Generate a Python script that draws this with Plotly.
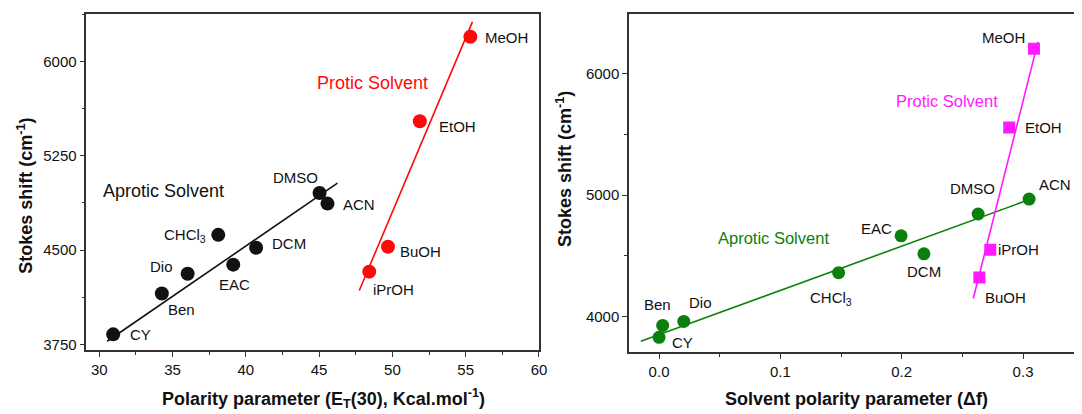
import plotly.graph_objects as go

W, H = 1082, 414

# ---------------- Left panel data (E_T(30)) ----------------
aprotic_names_L = ["CY", "Ben", "Dio", "CHCl<sub>3</sub>", "EAC", "DCM", "DMSO", "ACN"]
aprotic_et = [30.95, 34.27, 36.03, 38.12, 39.14, 40.7, 45.03, 45.57]
aprotic_ss_L = [3829, 4154, 4312, 4621, 4384, 4518, 4954, 4870]
aprotic_fit_x_L = [30.54, 46.25]
aprotic_fit_y_L = [3774, 5033]

protic_names_L = ["MeOH", "EtOH", "BuOH", "iPrOH"]
protic_et = [55.32, 51.87, 49.7, 48.42]
protic_ss_L = [6198, 5525, 4526, 4328]
protic_fit_x_L = [47.74, 55.46]
protic_fit_y_L = [4178, 6317]

# ---------------- Right panel data (Δf) ----------------
aprotic_names_R = ["CY", "Ben", "Dio", "CHCl<sub>3</sub>", "EAC", "DCM", "DMSO", "ACN"]
aprotic_df = [0.0, 0.003, 0.0204, 0.148, 0.1995, 0.2183, 0.263, 0.305]
aprotic_ss_R = [3828, 3926, 3959, 4361, 4664, 4516, 4844, 4967]
aprotic_fit_x_R = [-0.015, 0.305]
aprotic_fit_y_R = [3795, 4962]

protic_names_R = ["MeOH", "EtOH", "iPrOH", "BuOH"]
protic_df = [0.309, 0.2886, 0.273, 0.264]
protic_ss_R = [6205, 5557, 4549, 4320]
protic_fit_x_R = [0.259, 0.3123]
protic_fit_y_R = [4148, 6262]

# label offsets in pixels (dx right, dy down)
off_aprotic_L = [(27, 0), (20, 16), (-26, -7), (-33, 1), (1, 20), (33, -4), (-24, -16), (32, 1)]
off_protic_L = [(36, 1), (38, 5), (32, 5), (24, 18)]
off_aprotic_R = [(23, 5), (-5, -21), (17, -19), (-8, 26), (-25, -7), (0, 18), (-6, -26), (26, -15)]
off_protic_R = [(-30, -11), (34, 0), (28, 0), (26, 20)]

BLACK = "#111111"
RED = "#ff0a0a"
GREEN = "#0c800c"
MAGENTA = "#ff1aff"
AXC = "#333333"
FONT = "Liberation Sans, Arial, sans-serif"

fig = go.Figure()

# left panel
fig.add_trace(go.Scatter(x=aprotic_fit_x_L, y=aprotic_fit_y_L, mode="lines",
                         line=dict(color=BLACK, width=1.6), xaxis="x", yaxis="y", showlegend=False))
fig.add_trace(go.Scatter(x=protic_fit_x_L, y=protic_fit_y_L, mode="lines",
                         line=dict(color=RED, width=1.6), xaxis="x", yaxis="y", showlegend=False))
fig.add_trace(go.Scatter(x=aprotic_et, y=aprotic_ss_L, mode="markers",
                         marker=dict(color=BLACK, size=14, symbol="circle"),
                         xaxis="x", yaxis="y", showlegend=False))
fig.add_trace(go.Scatter(x=protic_et, y=protic_ss_L, mode="markers",
                         marker=dict(color=RED, size=14, symbol="circle"),
                         xaxis="x", yaxis="y", showlegend=False))

# right panel
fig.add_trace(go.Scatter(x=aprotic_fit_x_R, y=aprotic_fit_y_R, mode="lines",
                         line=dict(color=GREEN, width=1.6), xaxis="x2", yaxis="y2", showlegend=False))
fig.add_trace(go.Scatter(x=protic_fit_x_R, y=protic_fit_y_R, mode="lines",
                         line=dict(color=MAGENTA, width=1.6), xaxis="x2", yaxis="y2", showlegend=False))
fig.add_trace(go.Scatter(x=aprotic_df, y=aprotic_ss_R, mode="markers",
                         marker=dict(color=GREEN, size=13, symbol="circle"),
                         xaxis="x2", yaxis="y2", showlegend=False))
fig.add_trace(go.Scatter(x=protic_df, y=protic_ss_R, mode="markers",
                         marker=dict(color=MAGENTA, size=12, symbol="square"),
                         xaxis="x2", yaxis="y2", showlegend=False))

ann = []


def point_labels(names, xs, ys, offs, xref, yref, size=15):
    for n, x, y, (dx, dy) in zip(names, xs, ys, offs):
        ann.append(dict(x=x, y=y, xref=xref, yref=yref, text=n, showarrow=False,
                        xshift=dx, yshift=-dy, xanchor="center", yanchor="middle",
                        font=dict(family=FONT, size=size, color="#111111")))


point_labels(aprotic_names_L, aprotic_et, aprotic_ss_L, off_aprotic_L, "x", "y")
point_labels(protic_names_L, protic_et, protic_ss_L, off_protic_L, "x", "y")
point_labels(aprotic_names_R, aprotic_df, aprotic_ss_R, off_aprotic_R, "x2", "y2")
point_labels(protic_names_R, protic_df, protic_ss_R, off_protic_R, "x2", "y2")


def px(x):
    return x / W


def py(y):
    return 1 - y / H


def paper_text(x, y, text, size, color, angle=0):
    ann.append(dict(x=px(x), y=py(y), xref="paper", yref="paper", text=text, showarrow=False,
                    xanchor="center", yanchor="middle", textangle=angle,
                    font=dict(family=FONT, size=size, color=color)))


paper_text(165, 192, "Aprotic Solvent", 18, "#111111")
paper_text(375, 83, "Protic Solvent", 18, RED)
paper_text(954, 101, "Protic Solvent", 16.5, MAGENTA)
paper_text(779, 239, "Aprotic Solvent", 16.5, GREEN)

# axis titles
paper_text(25, 197, "<b>Stokes shift (cm<sup>-1</sup>)</b>", 18, "#111111", -90)
paper_text(568, 170, "<b>Stokes shift (cm<sup>-1</sup>)</b>", 18, "#111111", -90)
paper_text(326, 400, "<b>Polarity parameter (E<sub>T</sub>(30), Kcal.mol<sup>-1</sup>)</b>", 18, "#111111")
paper_text(863, 401, "<b>Solvent polarity parameter (Δf)</b>", 18, "#111111")

tickfont = dict(family=FONT, size=15, color="#111111")

common = dict(showgrid=False, zeroline=False, ticks="outside", ticklen=5, tickwidth=1.3,
              tickcolor=AXC, showline=True, linecolor=AXC, tickfont=tickfont)

fig.update_layout(
    width=W, height=H,
    margin=dict(l=0, r=0, t=0, b=0),
    paper_bgcolor="white", plot_bgcolor="white",
    annotations=ann,
    xaxis=dict(domain=[px(87), px(543)], range=[29.12, 60], dtick=5, tick0=30,
               anchor="y", mirror=True, linewidth=1.5,
               minor=dict(ticks="outside", ticklen=3, dtick=2.5, tick0=30, tickcolor=AXC),
               **common),
    yaxis=dict(domain=[py(352), py(14)], range=[3702, 6380], dtick=750, tick0=3750,
               anchor="x", mirror=True, linewidth=1.5,
               minor=dict(ticks="outside", ticklen=3, dtick=375, tick0=3750, tickcolor=AXC),
               **common),
    xaxis2=dict(domain=[px(634), 1.0], range=[-0.0245, 0.342], dtick=0.1, tick0=0,
                tickformat=".1f", anchor="y2", mirror=True, linewidth=2,
                minor=dict(ticks="outside", ticklen=3, dtick=0.05, tick0=0, tickcolor=AXC),
                **common),
    yaxis2=dict(domain=[py(354), py(14)], range=[3705, 6492], dtick=1000, tick0=4000,
                anchor="x2", mirror=False, linewidth=2,
                minor=dict(ticks="outside", ticklen=3, dtick=500, tick0=4000, tickcolor=AXC),
                **common),
)

fig.write_html("out.html")
